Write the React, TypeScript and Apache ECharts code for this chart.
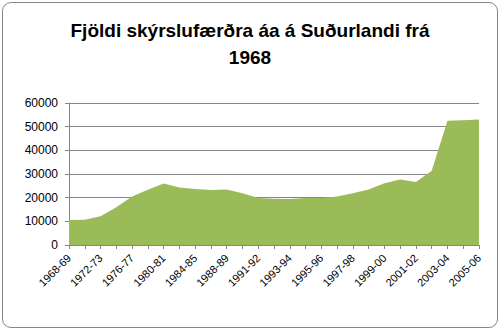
import React, { useEffect, useRef } from "react";
import * as echarts from "echarts";

const categories = [
  "1968-69", "1970-71", "1972-73", "1974-75", "1976-77", "1978-79", "1980-81",
  "1982-83", "1984-85", "1986-87", "1988-89", "1990-91", "1991-92", "1992-93",
  "1993-94", "1994-95", "1995-96", "1996-97", "1997-98", "1998-99", "1999-00",
  "2000-01", "2001-02", "2002-03", "2003-04", "2004-05", "2005-06",
];
const values = [
  10600, 10700, 12100, 16000, 20500, 23300, 26000,
  24300, 23700, 23200, 23400, 21900, 19900, 19500,
  19400, 19900, 19900, 20500, 21900, 23400, 26100,
  27700, 26600, 31400, 52500, 52700, 53000,
];
const yTicks = { min: 0, max: 60000, interval: 10000 };
const titleText = "Fjöldi skýrslufærðra áa á Suðurlandi frá\n1968";

export default function App() {
  const ref = useRef<HTMLDivElement>(null);
  useEffect(() => {
    if (!ref.current) return;
    const chart = echarts.init(ref.current, null, { renderer: "svg" });
    chart.setOption({
      animation: false,
      backgroundColor: "#ffffff",
      title: {
        text: titleText,
        left: 245,
        top: 12,
        textAlign: "center",
        textStyle: {
          fontFamily: "Liberation Sans, Arial, sans-serif",
          fontSize: 19,
          fontWeight: "bold",
          color: "#000000",
          lineHeight: 27,
        },
      },
      grid: { left: 69, right: 21, top: 103, bottom: 84 },
      xAxis: {
        type: "category",
        data: categories,
        boundaryGap: false,
        axisLine: { lineStyle: { color: "#868686", width: 1 } },
        axisTick: { show: true, interval: 0, length: 4, lineStyle: { color: "#868686" } },
        axisLabel: {
          interval: 1,
          rotate: 45,
          fontFamily: "Liberation Sans, Arial, sans-serif",
          fontSize: 11,
          color: "#000000",
          margin: 11,
        },
        splitLine: { show: false },
      },
      yAxis: {
        type: "value",
        min: yTicks.min,
        max: yTicks.max,
        interval: yTicks.interval,
        axisLine: { show: true, lineStyle: { color: "#868686", width: 1 } },
        axisTick: { show: true, length: 4, lineStyle: { color: "#868686" } },
        axisLabel: {
          fontFamily: "Liberation Sans, Arial, sans-serif",
          fontSize: 12,
          color: "#000000",
          margin: 11,
          formatter: (v: number) => String(v),
        },
        splitLine: { show: true, lineStyle: { color: "#868686", width: 1 } },
      },
      series: [
        {
          type: "line",
          data: values,
          symbol: "none",
          lineStyle: { width: 0, color: "#9BBB59" },
          itemStyle: { color: "#9BBB59" },
          areaStyle: { color: "#9BBB59", opacity: 1 },
          z: 3,
        },
      ],
    });
    return () => chart.dispose();
  }, []);
  return (
    <div
      style={{
        position: "fixed",
        left: 0,
        top: 0,
        width: 500,
        height: 329,
        background: "#fff",
      }}
    >
      <div ref={ref} style={{ position: "absolute", left: 0, top: 0, width: 500, height: 329 }} />
      <div
        style={{
          position: "absolute",
          left: 2,
          top: 2,
          width: 494,
          height: 324,
          border: "1px solid #868686",
          borderRadius: 9,
          pointerEvents: "none",
        }}
      />
    </div>
  );
}
